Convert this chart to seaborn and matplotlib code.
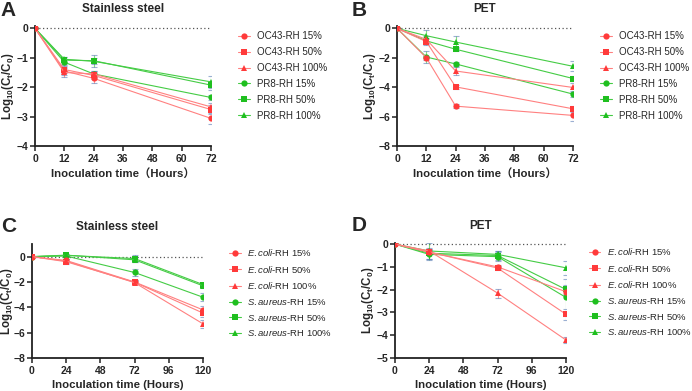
import numpy as np
import pandas as pd
import matplotlib
matplotlib.use('Agg')
import matplotlib.pyplot as plt
import seaborn as sns

# ---- data ----
times_top = [0, 12, 24, 72]
times_bot = [0, 24, 72, 120]

labels_top = ['OC43-RH 15%', 'OC43-RH 50%', 'OC43-RH 100%',
              'PR8-RH 15%', 'PR8-RH 50%', 'PR8-RH 100%']
labels_bot = [r'$\mathit{E.coli}$-RH 15%', r'$\mathit{E.coli}$-RH 50%', r'$\mathit{E.coli}$-RH 100%',
              r'$\mathit{S.aureus}$-RH 15%', r'$\mathit{S.aureus}$-RH 50%', r'$\mathit{S.aureus}$-RH 100%']

# panel A: stainless steel, viruses
a_vals = [[0, -1.45, -1.70, -3.06],
          [0, -1.40, -1.60, -2.76],
          [0, -1.50, -1.55, -2.67],
          [0, -1.15, -1.55, -2.35],
          [0, -1.08, -1.10, -1.93],
          [0, -1.05, -1.12, -1.82]]
a_err = [[0, 0.15, 0.15, 0.18],
         [0, 0.12, 0.12, 0.15],
         [0, 0.15, 0.10, 0.12],
         [0, 0.10, 0.10, 0.10],
         [0, 0.12, 0.20, 0.15],
         [0, 0.08, 0.10, 0.20]]

# panel B: PET, viruses
b_vals = [[0, -2.00, -5.29, -5.92],
          [0, -0.90, -3.98, -5.47],
          [0, -0.75, -2.90, -4.02],
          [0, -1.95, -2.42, -4.47],
          [0, -0.85, -1.42, -3.41],
          [0, -0.50, -0.93, -2.58]]
b_err = [[0, 0.15, 0.12, 0.35],
         [0, 0.20, 0.15, 0.20],
         [0, 0.25, 0.25, 0.30],
         [0, 0.40, 0.15, 0.20],
         [0, 0.20, 0.15, 0.15],
         [0, 0.40, 0.40, 0.35]]

# panel C: stainless steel, bacteria
c_vals = [[0, -0.30, -2.00, -4.20],
          [0, -0.40, -2.02, -4.45],
          [0, -0.35, -2.05, -5.30],
          [0, 0.05, -1.25, -3.20],
          [0, 0.10, -0.15, -2.20],
          [0, 0.12, -0.25, -2.30]]
c_err = [[0, 0.15, 0.15, 0.30],
         [0, 0.20, 0.15, 0.30],
         [0, 0.15, 0.10, 0.30],
         [0, 0.10, 0.25, 0.30],
         [0, 0.10, 0.25, 0.15],
         [0, 0.10, 0.20, 0.15]]

# panel D: PET, bacteria
d_vals = [[0, -0.35, -1.00, -2.09],
          [0, -0.35, -1.05, -3.08],
          [0, -0.30, -2.15, -4.21],
          [0, -0.45, -0.55, -2.34],
          [0, -0.40, -0.50, -1.99],
          [0, -0.30, -0.45, -1.04]]
d_err = [[0, 0.10, 0.08, 0.15],
         [0, 0.10, 0.08, 0.25],
         [0, 0.10, 0.20, 0.15],
         [0, 0.25, 0.20, 0.80],
         [0, 0.25, 0.20, 0.20],
         [0, 0.35, 0.15, 0.30]]

sns.set_theme(style='ticks')
plt.rcParams['font.family'] = ['Liberation Sans', 'Noto Sans CJK SC']
plt.rcParams['mathtext.fontset'] = 'custom'
plt.rcParams['mathtext.rm'] = 'Liberation Sans'
plt.rcParams['mathtext.it'] = 'Liberation Sans:italic'
plt.rcParams['mathtext.bf'] = 'Liberation Sans:bold'

RED, RED_LINE = '#ff3a3a', '#ff8080'
GREEN, GREEN_LINE = '#1fbf1f', '#45cc45'
marker_list = ['o', 's', '^', 'o', 's', '^']
marker_sizes = [4.5, 4.5, 4.0, 4.5, 4.5, 4.0]


def draw_panel(ax, times, vals, errs, labels, xticks, ylim, yticks, title, xlabel,
               leg_x=1.155, leg_top=0.955, leg_space=0.6, leg_size=7, ypad=0):
    rows = []
    for lab, v in zip(labels, vals):
        for t, y in zip(times, v):
            rows.append({'time': t, 'value': y, 'series': lab})
    df = pd.DataFrame(rows)
    palette = {lab: (RED if i < 3 else GREEN) for i, lab in enumerate(labels)}
    markers = {lab: marker_list[i] for i, lab in enumerate(labels)}

    # zero reference line
    ax.axhline(0, ls=(0, (1, 2)), color='#555555', lw=0.9, zorder=1)

    # green series below red ones
    order = labels[3:] + labels[:3]
    sns.lineplot(data=df, x='time', y='value', hue='series', style='series',
                 hue_order=order, style_order=order, palette=palette,
                 markers=markers, dashes=False, lw=0.8, markersize=4.5,
                 markeredgewidth=0, ax=ax, legend=False, zorder=3)
    for i, lab in enumerate(labels):
        c = RED if i < 3 else GREEN
        ax.errorbar(times, vals[i], yerr=errs[i], fmt='none', ecolor=c, alpha=0.55,
                    elinewidth=0.8, capsize=2.2, capthick=0.8, zorder=2)
    # lighter connecting lines
    for line in ax.lines[1:]:
        col = line.get_color()
        light = RED_LINE if col == RED else GREEN_LINE
        line.set_color(light)
        line.set_markerfacecolor(col)
        line.set_markeredgecolor(col)

    handles = []
    for i, lab in enumerate(labels):
        c = RED if i < 3 else GREEN
        cl = RED_LINE if i < 3 else GREEN_LINE
        h, = ax.plot([], [], color=cl, lw=0.8, marker=marker_list[i],
                     markersize=marker_sizes[i], markerfacecolor=c, markeredgewidth=0)
        handles.append(h)
    ax.legend(handles, labels, loc='upper left', bbox_to_anchor=(leg_x, leg_top),
              frameon=False, fontsize=leg_size, handlelength=1.2, handletextpad=0.7,
              labelspacing=leg_space, borderpad=0, borderaxespad=0)

    ax.set_xlim(xticks[0], xticks[-1])
    ax.set_xticks(xticks)
    ax.set_ylim(*ylim)
    ax.set_yticks(yticks)
    for lbl in ax.get_xticklabels() + ax.get_yticklabels():
        lbl.set_fontweight('bold')
    ax.tick_params(labelsize=7.5, width=1.1, length=3.5, pad=2, color='#222222')
    ax.tick_params(axis='y', pad=1.5)
    sns.despine(ax=ax)
    for side in ['left', 'bottom']:
        ax.spines[side].set_linewidth(1.3)
        ax.spines[side].set_color('#222222')
    ax.set_title(title, fontsize=8.5, fontweight='bold', pad=10)
    ax.set_xlabel(xlabel, fontsize=8.2, fontweight='bold', labelpad=3)
    ax.set_ylabel(r'$\mathbf{Log_{10}(C_t/C_0)}$', fontsize=8.3, labelpad=ypad)


fig = plt.figure(figsize=(6.92, 3.91), dpi=100)
ax_a = fig.add_axes([0.0506, 0.6266, 0.2543, 0.3069])
ax_b = fig.add_axes([0.5737, 0.6266, 0.2543, 0.3069])
ax_c = fig.add_axes([0.0462, 0.0844, 0.2471, 0.2916])
ax_d = fig.add_axes([0.5708, 0.0844, 0.2471, 0.2941])

xl_top = 'Inoculation time（Hours）'
xl_bot = 'Inoculation time (Hours)'
draw_panel(ax_a, times_top, a_vals, a_err, labels_top, [0, 12, 24, 36, 48, 60, 72],
           (-4, 0.08), [-4, -3, -2, -1, 0], 'Stainless steel', xl_top)
draw_panel(ax_b, times_top, b_vals, b_err, labels_top, [0, 12, 24, 36, 48, 60, 72],
           (-8, 0.16), [-8, -6, -4, -2, 0], 'PET', xl_top)
draw_panel(ax_c, times_bot, c_vals, c_err, labels_bot, [0, 24, 48, 72, 96, 120],
           (-8, 1.0), [-8, -6, -4, -2, 0], 'Stainless steel', xl_bot,
           leg_top=0.975, leg_space=0.6, leg_size=6.8, ypad=-1)
draw_panel(ax_d, times_bot, d_vals, d_err, labels_bot, [0, 24, 48, 72, 96, 120],
           (-5, 0.05), [-5, -4, -3, -2, -1, 0], 'PET', xl_bot,
           leg_x=1.135, leg_top=0.975, leg_space=0.6, leg_size=6.8)

for letter, x, y in [('A', 0.001, 0.998), ('B', 0.508, 0.998),
                     ('C', 0.001, 0.445), ('D', 0.508, 0.448)]:
    fig.text(x, y, letter, fontsize=15, fontweight='bold', va='top', ha='left')

fig.savefig('out.png', dpi=100)
